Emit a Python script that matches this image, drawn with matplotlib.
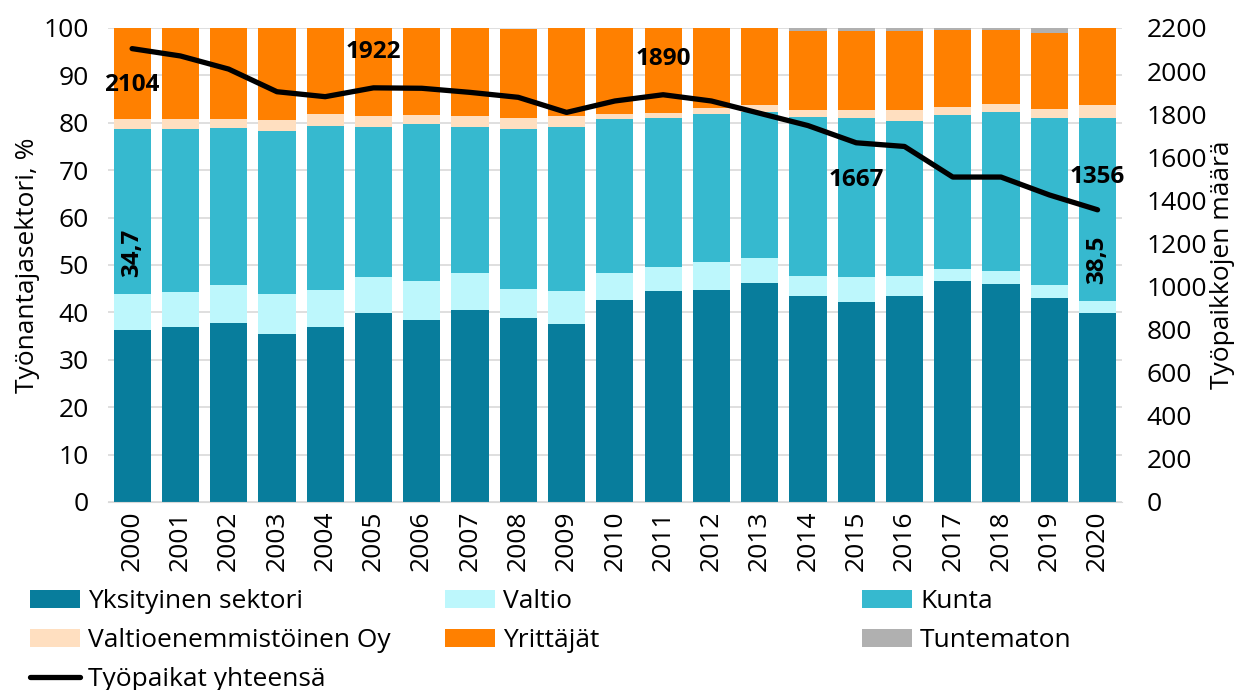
import matplotlib.pyplot as plt
import numpy as np

plt.rcParams['font.family'] = ['Open Sans', 'DejaVu Sans']

years = [str(y) for y in range(2000, 2021)]

# Osuudet (%) sektoreittain
yksityinen = [36.3, 37.0, 37.7, 35.4, 36.9, 39.8, 38.3, 40.6, 38.8, 37.6, 42.6,
              44.6, 44.7, 46.1, 43.5, 42.2, 43.5, 46.6, 46.0, 43.0, 39.9]
valtio = [7.6, 7.4, 8.0, 8.5, 7.9, 7.7, 8.3, 7.8, 6.2, 6.9, 5.7,
          5.0, 6.0, 5.4, 4.2, 5.3, 4.1, 2.6, 2.7, 2.8, 2.6]
kunta = [34.7, 34.2, 33.2, 34.4, 34.5, 31.5, 33.1, 30.7, 33.7, 34.6, 32.5,
         31.5, 31.2, 30.8, 33.5, 33.6, 32.8, 32.5, 33.6, 35.3, 38.5]
valtio_oy = [2.1, 2.1, 1.8, 2.2, 2.6, 2.4, 2.0, 2.3, 2.3, 2.3, 1.1,
             1.0, 1.2, 1.4, 1.5, 1.6, 2.3, 1.6, 1.7, 1.8, 2.7]
yrittajat = [19.3, 19.3, 19.3, 19.5, 18.1, 18.6, 18.3, 18.6, 18.8, 18.6, 18.1,
             17.9, 16.9, 16.3, 16.7, 16.7, 16.7, 16.2, 15.6, 16.1, 16.3]
tuntematon = [0, 0, 0, 0, 0, 0, 0, 0, 0, 0, 0,
              0, 0, 0, 0.6, 0.6, 0.6, 0.5, 0.4, 1.0, 0]

# Työpaikat yhteensä
tyopaikat = [2104, 2070, 2009, 1904, 1881, 1922, 1920, 1901, 1878, 1808, 1861,
             1890, 1861, 1804, 1747, 1667, 1650, 1508, 1508, 1425, 1356]

series = [
    ("Yksityinen sektori", yksityinen, "#087d9c"),
    ("Valtio", valtio, "#bdf7fc"),
    ("Kunta", kunta, "#36b9cf"),
    ("Valtioenemmistöinen Oy", valtio_oy, "#ffdfc0"),
    ("Yrittäjät", yrittajat, "#ff8000"),
    ("Tuntematon", tuntematon, "#b0b0b0"),
]

fs = 19
fs_lab = 17.5

fig = plt.figure(figsize=(12.34, 6.9), dpi=100)
ax = fig.add_axes([0.0875, 0.2725, 0.8215, 0.687])
ax2 = ax.twinx()

x = np.arange(len(years))
bottom = np.zeros(len(years))
handles = {}
for name, vals, color in series:
    vals = np.array(vals)
    b = ax.bar(x, vals, 0.77, bottom=bottom, color=color, zorder=2, label=name)
    handles[name] = b
    bottom = bottom + vals

# Kunta-osuuden arvot ensimmäiselle ja viimeiselle vuodelle
for i in [0, len(years) - 1]:
    base = yksityinen[i] + valtio[i]
    ax.text(x[i], base + 3.5, f"{kunta[i]:.1f}".replace(".", ","),
            rotation=90, ha="center", va="bottom", fontsize=fs_lab,
            fontweight="bold", zorder=5)

line, = ax2.plot(x, tyopaikat, color="black", linewidth=3.8, zorder=4,
                 solid_capstyle="round", label="Työpaikat yhteensä")

for i, off in [(0, -36), (5, 36), (11, 36), (15, -37), (20, 33)]:
    ax2.annotate(str(tyopaikat[i]), (x[i], tyopaikat[i]),
                 xytext=(0, off * 0.72), textcoords="offset points",
                 ha="center", va="center", fontsize=fs_lab, fontweight="bold")

ax.set_xlim(-0.5, len(years) - 0.5)
ax.set_ylim(0, 100)
ax.set_yticks(range(0, 101, 10))
ax2.set_ylim(0, 2200)
ax2.set_yticks(range(0, 2201, 200))
ax.set_xticks(x)
ax.set_xticklabels(years, rotation=90, fontsize=fs)
ax.tick_params(axis="y", labelsize=fs, length=0, pad=14)
ax2.tick_params(axis="y", labelsize=fs, length=0, pad=18)
ax.tick_params(axis="x", length=0, pad=6)

ax.grid(axis="y", color="#d9d9d9", linewidth=1.2, zorder=0)
ax.set_axisbelow(True)
for a in (ax, ax2):
    for s in a.spines.values():
        s.set_visible(False)
ax.spines["bottom"].set_visible(True)
ax.spines["bottom"].set_color("#d9d9d9")

ax.set_ylabel("Työnantajasektori, %", fontsize=fs, labelpad=2)
ax2.set_ylabel("Työpaikkojen määrä", fontsize=fs, labelpad=2)

ax.set_zorder(ax2.get_zorder() - 1)
ax.patch.set_visible(False)

# Selite kolmessa sarakkeessa
cols = [
    (0.0243, [handles["Yksityinen sektori"], handles["Valtioenemmistöinen Oy"], line]),
    (0.3606, [handles["Valtio"], handles["Yrittäjät"]]),
    (0.6985, [handles["Kunta"], handles["Tuntematon"]]),
]
for xpos, hs in cols:
    fig.legend(hs, [h.get_label() for h in hs], loc="upper left",
               bbox_to_anchor=(xpos, 0.146), frameon=False, fontsize=fs,
               handlelength=1.9, handleheight=0.65, handletextpad=0.3,
               labelspacing=0.52, borderaxespad=0, borderpad=0)

fig.savefig("out.png", dpi=100)
